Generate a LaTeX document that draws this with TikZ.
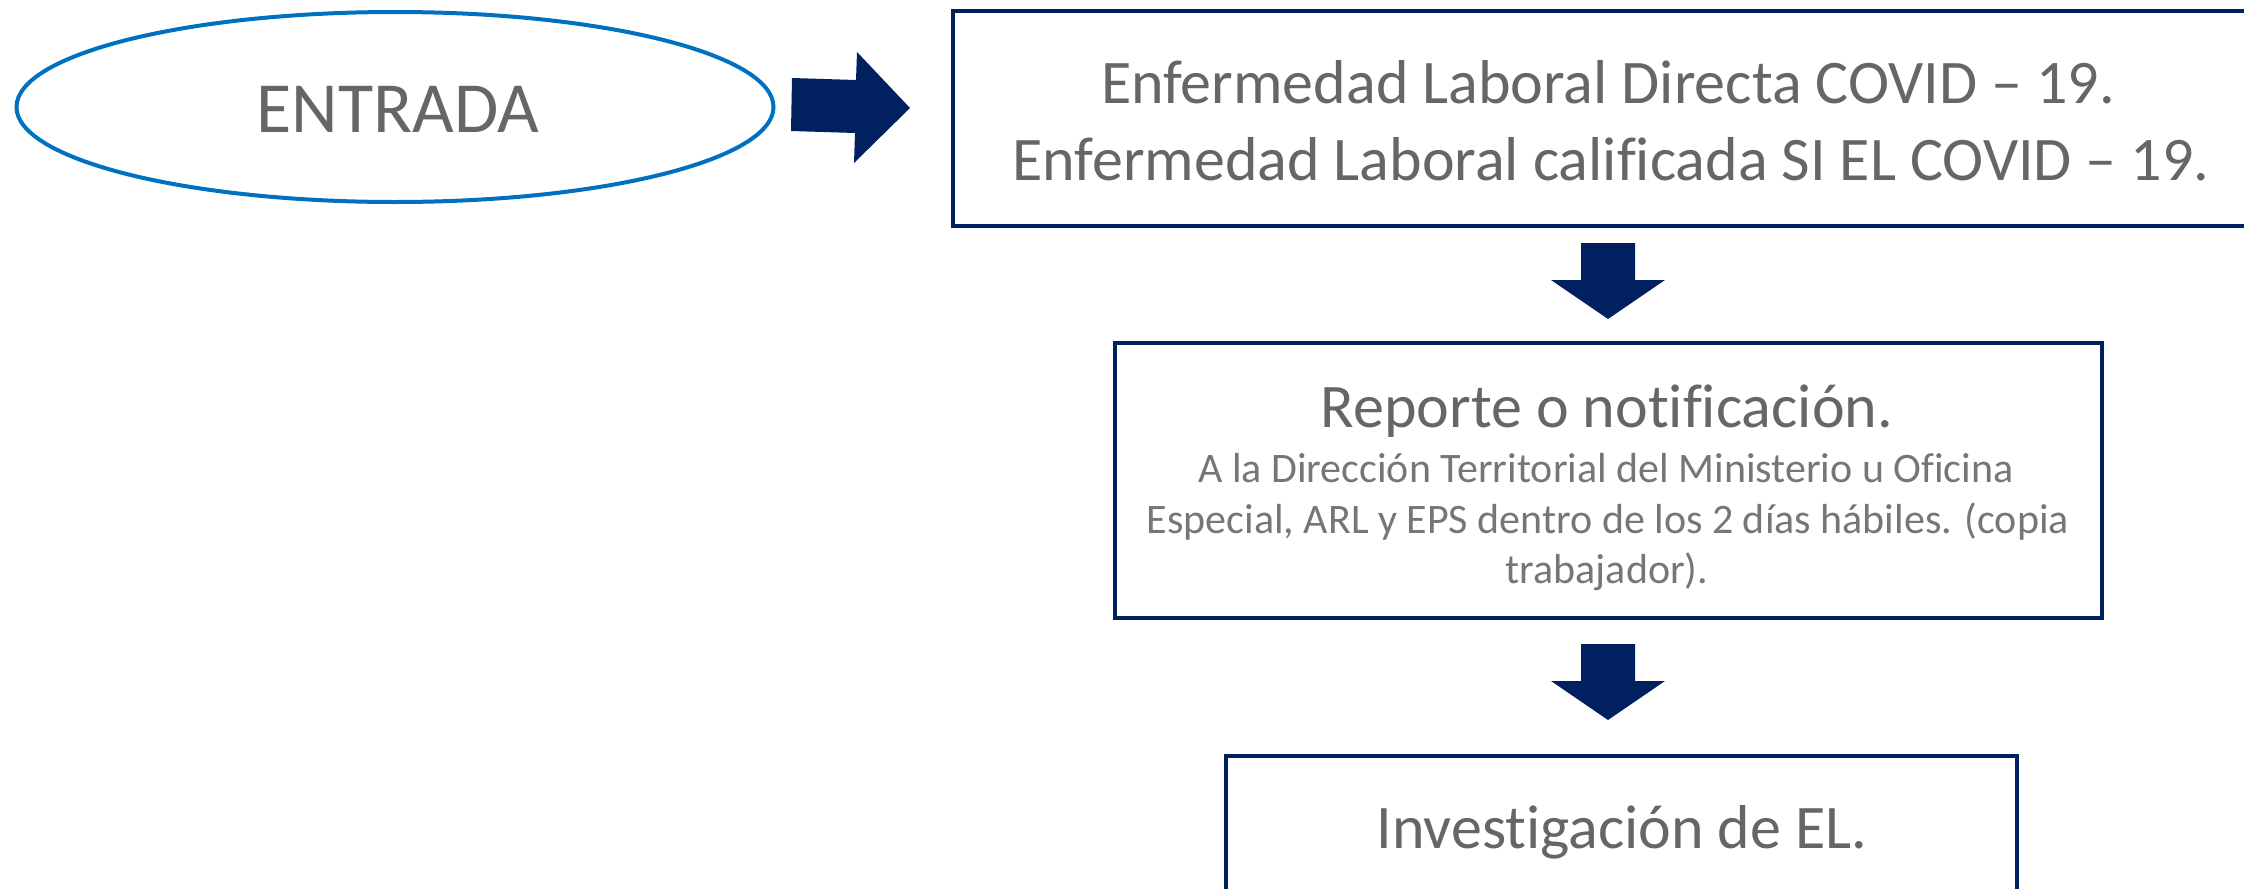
\documentclass[tikz,border=0pt]{standalone}
\usepackage{fontspec}
\setmainfont{Carlito}[Ligatures={NoCommon}]
\usetikzlibrary{shapes.geometric}
\definecolor{navy}{HTML}{002060}
\definecolor{ellblue}{HTML}{0070C0}
\definecolor{txtgray}{HTML}{666666}
\definecolor{lightgray}{HTML}{767676}
\tikzset{
  box/.style={draw=navy, line width=2pt, rectangle, inner sep=0pt},
  oval/.style={ellipse, draw=ellblue, line width=2pt, inner sep=0pt},
  bigtxt/.style={text=txtgray, font=\fontsize{36}{43}\selectfont, anchor=base, inner sep=0pt},
  titletxt/.style={text=txtgray, font=\fontsize{31}{38}\selectfont, anchor=base, inner sep=0pt},
  bodytxt/.style={text=lightgray, font=\fontsize{21}{25}\selectfont, anchor=base, inner sep=0pt},
  blockarrow/.style={fill=navy, draw=none},
  pics/downarrow/.style={code={
    \fill[blockarrow] (-27,0) -- (27,0) -- (27,37) -- (57,37) -- (0,76) -- (-57,37) -- (-27,37) -- cycle;
  }},
}
\begin{document}
\begin{tikzpicture}[x=0.5pt,y=-0.5pt]
\useasboundingbox (0,0) rectangle (2244,889);
\begin{scope}
\clip (0,0) rectangle (2244,889);
% input oval
\node[oval, minimum width=757*0.5pt, minimum height=190*0.5pt] (entrada) at (395,107) {};
\node[bigtxt] (entradatxt) at (398,132) {ENTRADA};
% boxes
\node[box, minimum width=1312*0.5pt, minimum height=215*0.5pt] (b1) at (1609,118.5) {};
\node[box, minimum width=987*0.5pt, minimum height=275*0.5pt] (b2) at (1608.5,480.5) {};
\node[box, minimum width=791*0.5pt, minimum height=244*0.5pt] (b3) at (1621.5,878) {};
% texts
\node[titletxt] (l1) at (1608,103) {Enfermedad Laboral Directa COVID – 19.};
\node[titletxt] (l2) at (1611,180) {Enfermedad Laboral calificada SI EL COVID – 19.};
\node[titletxt] (t2) at (1607,427) {Reporte o notificación.};
\node[bodytxt] (t2a) at (1606,482) {A la Dirección Territorial del Ministerio u Oficina};
\node[bodytxt] (t2b) at (1608,533) {Especial, ARL y EPS dentro de los 2 días hábiles. (copia};
\node[bodytxt] (t2c) at (1607,583) {trabajador).};
\node[titletxt] (t3) at (1622,848) {Investigación de EL.};
% block arrows
\fill[blockarrow] (792,78) -- (856,80) -- (857,52) -- (910,108) -- (854,163) -- (855,133) -- (791,131) -- cycle;
\pic at (1608,243) {downarrow};
\pic at (1608,644) {downarrow};
\end{scope}
\end{tikzpicture}
\end{document}
